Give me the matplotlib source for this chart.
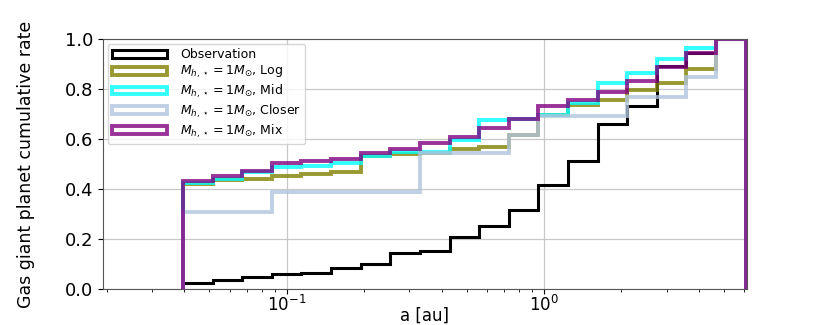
import matplotlib
matplotlib.use("Agg")
import matplotlib.pyplot as plt

# bin edges in au (log-spaced)
bin_edges = [0.0395, 0.05148, 0.06709, 0.0875, 0.11403, 0.14869, 0.1938, 0.25259,
             0.32943, 0.42915, 0.55952, 0.72938, 0.95083, 1.2394, 1.6153, 2.1057,
             2.7447, 3.5785, 4.6645, 6.08]

# cumulative rates per bin
observation = [0.025, 0.036, 0.047, 0.061, 0.062, 0.083, 0.100, 0.145, 0.153, 0.207,
               0.253, 0.316, 0.415, 0.513, 0.660, 0.732, 0.890, 0.943, 1.0]
log_model = [0.420, 0.436, 0.440, 0.452, 0.461, 0.469, 0.533, 0.540, 0.545, 0.560,
             0.569, 0.615, 0.695, 0.736, 0.757, 0.795, 0.825, 0.880, 1.0]
mid_model = [0.422, 0.440, 0.469, 0.487, 0.491, 0.502, 0.530, 0.546, 0.549, 0.597,
             0.677, 0.680, 0.694, 0.745, 0.823, 0.865, 0.918, 0.965, 1.0]
closer_model = [0.309, 0.309, 0.309, 0.388, 0.388, 0.388, 0.388, 0.388, 0.543, 0.543,
                0.543, 0.615, 0.693, 0.693, 0.693, 0.769, 0.769, 0.849, 1.0]
mix_model = [0.432, 0.453, 0.473, 0.504, 0.511, 0.518, 0.545, 0.559, 0.583, 0.608,
             0.642, 0.679, 0.731, 0.756, 0.789, 0.833, 0.887, 0.943, 1.0]

labels = ["Observation",
          r"$M_{h,\star}=1M_{\odot}$, Log",
          r"$M_{h,\star}=1M_{\odot}$, Mid",
          r"$M_{h,\star}=1M_{\odot}$, Closer",
          r"$M_{h,\star}=1M_{\odot}$, Mix"]

series = [observation, log_model, mid_model, closer_model, mix_model]
colors = ["black", "olive", "cyan", "lightsteelblue", "purple"]
alphas = [1.0, 0.8, 0.8, 0.8, 0.8]
widths = [2.2, 2.8, 2.8, 2.8, 2.8]

fig = plt.figure(figsize=(8.3, 3.25), dpi=100)
ax = fig.add_axes([0.124, 0.111, 0.776, 0.769])

ax.grid(True, which="major", color="#c8c8c8", lw=0.9, zorder=0)
ax.set_axisbelow(True)

left_edges = bin_edges[:-1]
for vals, col, a, w, lab in zip(series, colors, alphas, widths, labels):
    ax.hist(left_edges, bins=bin_edges, weights=vals, histtype="step",
            color=col, alpha=a, lw=w, label=lab)

ax.set_xscale("log")
ax.set_xlim(0.0193, 6.15)
ax.set_ylim(0, 1.0)
ax.set_yticks([0.0, 0.2, 0.4, 0.6, 0.8, 1.0])
ax.tick_params(axis="y", labelsize=13)
ax.tick_params(axis="x", labelsize=12, pad=1)
for s in ax.spines.values():
    s.set_color("#555555")

ax.set_xlabel("a [au]", fontsize=12)
ax.xaxis.set_label_coords(0.5, -0.072, transform=ax.transAxes)
ax.xaxis.label.set_va("top")
ax.set_ylabel("Gas giant planet cumulative rate", fontsize=12.5)
ax.yaxis.set_label_coords(-0.105, 0.5)

ax.legend(loc="upper left", fontsize=9, handlelength=4.4, handleheight=0.6,
          labelspacing=0.2, borderpad=0.35, handletextpad=1.0, framealpha=0.8,
          borderaxespad=0.4)

fig.savefig("out.png", dpi=100)
